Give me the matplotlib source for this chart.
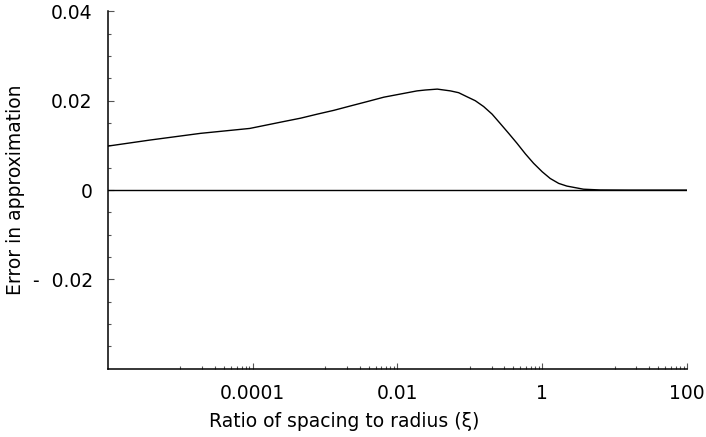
import matplotlib
matplotlib.use("Agg")
import matplotlib.pyplot as plt
from matplotlib.ticker import FixedLocator, FixedFormatter

# values
xi = [1e-6, 3.8e-6, 1.9e-5, 9.1e-5, 1.55e-4, 2.6e-4, 4.6e-4, 7.8e-4, 1.32e-3,
      2.2e-3, 3.8e-3, 6.5e-3, 1.1e-2, 1.86e-2, 2.43e-2, 3.55e-2, 5.4e-2,
      7.0e-2, 9.1e-2, 0.119, 0.155, 0.203, 0.263, 0.344, 0.447, 0.586, 0.76,
      1.0, 1.29, 1.69, 2.19, 3.72, 6.3, 15.0, 100.0]
error = [0.00985, 0.0112, 0.0127, 0.0138, 0.01456, 0.0153, 0.0161, 0.0170, 0.01785,
         0.0188, 0.0198, 0.0208, 0.0215, 0.0222, 0.0224, 0.0226, 0.0222,
         0.0218, 0.0209, 0.0200, 0.0187, 0.0170, 0.0149, 0.0127, 0.0105, 0.0081, 0.0060,
         0.0041, 0.0026, 0.0015, 0.0009, 0.0002, 0.00003, 0.0, 0.0]

x_major = [1e-4, 1e-2, 1, 100]
x_major_labels = ['0.0001', '0.01', '1', '100']
y_major = [-0.02, 0, 0.02, 0.04]
y_major_labels = ['-  0.02', '0', '0.02', '0.04']
y_minor = [-0.035, -0.03, -0.025, -0.015, -0.01, -0.005,
           0.005, 0.01, 0.015, 0.025, 0.03, 0.035]
x_minor = [k * 10.0 ** e for e in (-5, -3, -1, 1) for k in range(1, 10)]

fig = plt.figure(figsize=(7.06, 4.37), dpi=100)
ax = fig.add_axes([0.153, 0.156, 0.820, 0.818])

ax.axhline(0, color='black', lw=1.0, zorder=2)
ax.plot(xi, error, color='black', lw=1.0, zorder=3)

ax.set_xscale('log')
ax.set_xlim(1e-6, 100)
ax.set_ylim(-0.04, 0.04)

ax.xaxis.set_major_locator(FixedLocator(x_major))
ax.xaxis.set_major_formatter(FixedFormatter(x_major_labels))
ax.xaxis.set_minor_locator(FixedLocator(x_minor))
ax.xaxis.set_minor_formatter(FixedFormatter([''] * len(x_minor)))
ax.yaxis.set_major_locator(FixedLocator(y_major))
ax.yaxis.set_major_formatter(FixedFormatter(y_major_labels))
ax.yaxis.set_minor_locator(FixedLocator(y_minor))

for side in ['top', 'right']:
    ax.spines[side].set_visible(False)
for side in ['left', 'bottom']:
    ax.spines[side].set_linewidth(1.1)

ax.tick_params(which='major', direction='in', length=4, width=0.8,
               color='#555555', labelsize=13.5, pad=11)
ax.tick_params(which='minor', direction='in', length=2.5, width=0.8,
               color='#555555')
ax.tick_params(axis='x', which='major', pad=11)

ax.set_xlabel('Ratio of spacing to radius (ξ)', fontsize=13.5)
ax.set_ylabel('Error in approximation', fontsize=13.5)
ax.xaxis.set_label_coords(0.4085, -0.121)
ax.yaxis.set_label_coords(-0.143, 0.5)

fig.savefig('out.png', dpi=100)
